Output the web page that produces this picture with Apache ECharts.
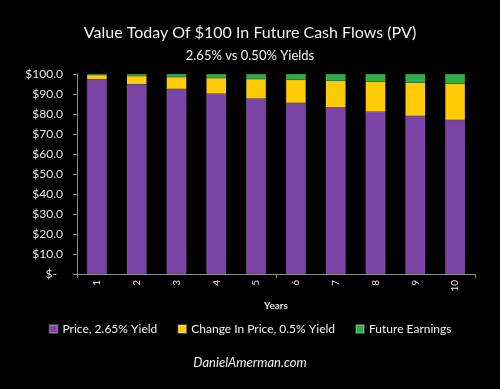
<!DOCTYPE html>
<html><head><meta charset="utf-8">
<script src="https://cdn.jsdelivr.net/npm/echarts@6/dist/echarts.min.js"></script>
<style>html,body{margin:0;padding:0;background:#000;}#c{width:500px;height:389px;}</style>
</head><body><div id="c"></div>
<script>
const years = ['1','2','3','4','5','6','7','8','9','10'];
const priceHigh = [97.4, 94.9, 92.5, 90.1, 87.7, 85.5, 83.3, 81.1, 79.0, 77.0];
const changeLow = [2.1, 4.1, 6.0, 7.9, 9.8, 11.6, 13.3, 15.0, 16.6, 18.1];
const futureEarn = [0.5, 1.0, 1.5, 2.0, 2.5, 2.9, 3.4, 3.9, 4.4, 4.9];
const yTicks = [0,10,20,30,40,50,60,70,80,90,100];
const names = ['Price, 2.65% Yield','Change In Price, 0.5% Yield','Future Earnings'];
const colors = ['#7B43A6','#FFCB05','#2EAD4B'];
const font = 'Lato, "Open Sans", sans-serif';
const chart = echarts.init(document.getElementById('c'));
function ser(i, data){
  return {name: names[i], type:'bar', stack:'s', data: data, barWidth:'50%',
    itemStyle:{color: colors[i], borderColor: 'rgba(255,255,255,0.25)', borderWidth: 0.5}};
}
chart.setOption({
  backgroundColor:'#000',
  animation:false,
  title:[
    {text:'Value Today Of $100 In Future Cash Flows (PV)', left:'center', top:20,
     textStyle:{color:'#f2f2f2', fontFamily:font, fontSize:16, fontWeight:'normal'}},
    {text:'2.65% vs 0.50% Yields', left:'center', top:44,
     textStyle:{color:'#f2f2f2', fontFamily:font, fontSize:13, fontWeight:'normal'}},
    {text:'DanielAmerman.com', left:'center', top:351,
     textStyle:{color:'#f2f2f2', fontFamily:font, fontSize:13, fontWeight:'normal', fontStyle:'italic'}}
  ],
  legend:{bottom:49, left:'center', itemWidth:8, itemHeight:8, itemGap:20, icon:'rect',
    textStyle:{color:'#f2f2f2', fontFamily:font, fontSize:12}, data:names},
  grid:{left:77, right:25, top:74, bottom:115},
  xAxis:{type:'category', data: years, name:'Years', nameLocation:'middle', nameGap:27,
    nameTextStyle:{color:'#e6e6e6', fontFamily:font, fontSize:10, fontWeight:'bold'},
    axisLine:{lineStyle:{color:'#8a8a8a'}},
    axisTick:{show:true, interval:4, length:4, lineStyle:{color:'#8a8a8a'}},
    axisLabel:{rotate:90, color:'#e6e6e6', fontFamily:font, fontSize:10, margin:6}},
  yAxis:{type:'value', min:0, max:100, interval:10,
    axisLine:{show:true, lineStyle:{color:'#8a8a8a'}},
    axisTick:{show:true, length:4, lineStyle:{color:'#8a8a8a'}},
    splitLine:{show:false},
    axisLabel:{color:'#e6e6e6', fontFamily:font, fontSize:12, margin:14,
      formatter: v => yTicks.indexOf(v) < 0 ? '' : (v===0 ? '$-  ' : '$' + v.toFixed(1))}},
  series:[ser(0, priceHigh), ser(1, changeLow), ser(2, futureEarn)]
});
</script></body></html>
